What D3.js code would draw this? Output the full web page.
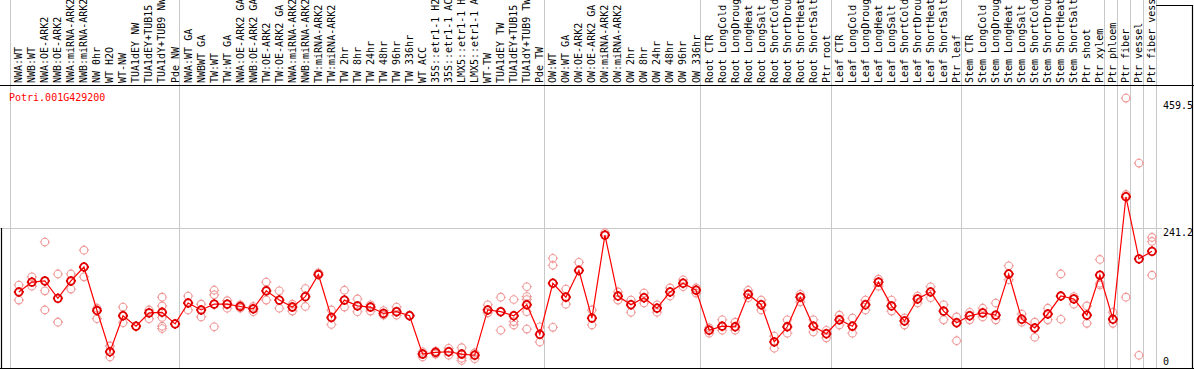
<!DOCTYPE html>
<html>
<head>
<meta charset="utf-8">
<script src="https://cdn.jsdelivr.net/npm/d3@7"></script>
<style>
  body { margin: 0; background: #fff; }
  svg { display: block; }
  text { font-family: "DejaVu Sans Mono", monospace; font-size: 10px; }
</style>
</head>
<body>
<svg id="chart" width="1194" height="370"></svg>
<script>
const geneId = "Potri.001G429200";

const samples = [
  "NWA:WT", "NWB:WT", "NWA:OE-ARK2", "NWB:OE-ARK2", "NWA:miRNA-ARK2", "NWB:miRNA-ARK2",
  "NW 0hr", "WT H2O", "WT-NW", "TUA1dEY NW", "TUA1dEY+TUB15", "TUA1dY+TUB9 NW", "Pde NW",
  "NWA:WT GA", "NWBWT GA", "TW:WT", "TW:WT GA", "NWA:OE-ARK2 GA", "NWB:OE-ARK2 GA",
  "TW:OE-ARK2", "TW:OE-ARK2 GA", "NWA:miRNA-ARK2", "NWB:miRNA-ARK2", "TW:miRNA-ARK2",
  "TW:miRNA-ARK2", "TW 2hr", "TW 8hr", "TW 24hr", "TW 48hr", "TW 96hr", "TW 336hr",
  "WT ACC", "35S::etr1-1 H2O", "35S::etr1-1 ACC", "LMX5::etr1-1 H2O", "LMX5::etr1-1 ACC",
  "WT-TW", "TUA1dEY TW", "TUA1dEY+TUB15 TW", "TUA1dY+TUB9 TW", "Pde TW",
  "OW:WT", "OW:WT GA", "OW:OE-ARK2", "OW:OE-ARK2 GA", "OW:miRNA-ARK2", "OW:miRNA-ARK2",
  "OW 2hr", "OW 8hr", "OW 24hr", "OW 48hr", "OW 96hr", "OW 336hr",
  "Root CTR", "Root LongCold", "Root LongDrought", "Root LongHeat", "Root LongSalt",
  "Root ShortCold", "Root ShortDrought", "Root ShortHeat", "Root ShortSalt", "Ptr root",
  "Leaf CTR", "Leaf LongCold", "Leaf LongDrought", "Leaf LongHeat", "Leaf LongSalt",
  "Leaf ShortCold", "Leaf ShortDrought", "Leaf ShortHeat", "Leaf ShortSalt", "Ptr leaf",
  "Stem CTR", "Stem LongCold", "Stem LongDrought", "Stem LongHeat", "Stem LongSalt",
  "Stem ShortCold", "Stem ShortDrought", "Stem ShortHeat", "Stem ShortSalt", "Ptr shoot",
  "Ptr xylem", "Ptr phloem", "Ptr fiber", "Ptr vessel", "Ptr fiber vessel"
];

// mean expression per sample (connected by the line)
const means = [
  131, 148, 150, 120, 150, 174, 99, 28, 90, 72, 95, 96, 76,
  112, 100, 110, 110, 106, 102, 133, 117, 105, 123, 161, 87, 117, 107, 105, 94, 97, 90,
  24, 27, 28, 24, 22, 100, 97, 90, 109, 58,
  146, 122, 168, 86, 229, 124, 109, 121, 103, 131, 146, 134,
  65, 72, 71, 127, 109, 45, 71, 122, 72, 59,
  83, 72, 109, 148, 107, 81, 119, 131, 98, 78,
  90, 95, 91, 162, 84, 69, 93, 124, 119, 91, 160,
  84, 295, 188, 201
];

// individual replicates per sample
const replicates = [
  [143, 117], [157, 141], [217, 133, 100], [162, 79], [162, 136], [203, 157],
  [103, 85], [38, 19], [105, 78], [72], [100, 85], [122, 107, 87, 72, 68], [76],
  [124, 100], [110, 88], [134, 126, 71], [116, 103], [109, 103], [106, 97],
  [148, 117], [133, 103], [110, 98], [137, 106], [164], [100, 75], [134, 105],
  [119, 97], [109, 98], [99, 91], [105, 91], [91],
  [28, 19], [29, 24], [34, 22], [35, 17, 13], [26, 16],
  [109, 95], [122, 65], [118, 80, 74], [140, 123, 118, 97, 67], [71, 45],
  [189, 177, 70], [136, 110], [182], [100, 74], [233], [131, 117],
  [117, 96], [129, 112], [109, 96], [138, 124], [152, 140], [138, 129],
  [69, 60], [83, 65], [79, 65], [134, 121], [117, 100], [55, 34], [83, 60],
  [127, 114], [83, 62], [65, 52],
  [91, 74], [86, 60], [117, 100], [153, 141], [117, 98], [86, 74], [124, 112],
  [140, 121], [109, 83], [88, 47],
  [96, 83], [103, 88], [112, 83], [176, 152], [93, 79], [79, 53], [103, 83],
  [162, 84], [123, 110], [107, 77], [187, 146, 143],
  [96, 77], [465, 299, 122], [353, 22], [225, 218, 160]
];

// index of the first sample in each block, a grey rule is drawn at its left edge
const blockStarts = [0, 13, 41, 53, 63, 73, 84, 85, 86, 87, 88];

const yTickValues = [0, 241.2, 459.5];
const yTickLabels = ["0", "241.2", "459.5"];

const width = 1194;
const plotLeft = 10;
const plotRight = 1156.2;
const headerBottom = 85.5;
const plotBottom = 368;

const svg = d3.select("#chart");

const x = d3.scaleBand()
  .domain(d3.range(samples.length))
  .range([plotLeft, plotRight]);

const y = d3.scaleLinear()
  .domain([0, 241.2])
  .range([plotBottom, 228]);

const px = (i) => x(i) + x.bandwidth() / 2 + 2.3;

// grey rules
const grid = svg.append("g").attr("stroke", "#c8c8c8").attr("stroke-width", 1);
blockStarts.forEach((i) => {
  const xx = i < samples.length ? x(i) : plotRight;
  grid.append("line")
    .attr("x1", Math.round(xx) + 0.5).attr("x2", Math.round(xx) + 0.5)
    .attr("y1", 0).attr("y2", plotBottom);
});
grid.append("line")
  .attr("x1", 0).attr("x2", 1162)
  .attr("y1", Math.round(y(241.2)) + 0.5).attr("y2", Math.round(y(241.2)) + 0.5);

// black frame pieces
const frame = svg.append("g").attr("stroke", "#000").attr("stroke-width", 1.2);
frame.append("line").attr("x1", 0).attr("x2", width).attr("y1", headerBottom).attr("y2", headerBottom);
frame.append("line").attr("x1", 0).attr("x2", width).attr("y1", plotBottom + 0.5).attr("y2", plotBottom + 0.5);
frame.append("line").attr("x1", 1192.5).attr("x2", 1192.5).attr("y1", 5).attr("y2", plotBottom);
frame.append("line").attr("x1", plotRight).attr("x2", 1193).attr("y1", 5.5).attr("y2", 5.5);
frame.append("line").attr("x1", 1.5).attr("x2", 1.5).attr("y1", y(241.2)).attr("y2", plotBottom);

// sample names, rotated
svg.append("g")
  .selectAll("text")
  .data(samples)
  .join("text")
  .attr("transform", (d, i) => `translate(${px(i) + 3.4},83) rotate(-90)`)
  .attr("fill", "#000")
  .text((d) => d);

svg.append("text")
  .attr("x", 9).attr("y", 101)
  .attr("fill", "#ff0000")
  .text(geneId);

// y labels
svg.append("g")
  .selectAll("text")
  .data(yTickValues)
  .join("text")
  .attr("x", 1163)
  .attr("y", (d) => (d === 0 ? plotBottom - 3 : y(d) + 8))
  .attr("fill", "#000")
  .text((d, i) => yTickLabels[i]);

function marker(g, r, tick) {
  g.append("circle").attr("r", r).attr("fill", "none");
  g.append("path")
    .attr("fill", "none")
    .attr("d", `M0,${-r}V${-r - tick}M0,${r}V${r + tick}M${-r},0H${-r - tick}M${r},0H${r + tick}`);
}

// replicates
const reps = [];
replicates.forEach((vals, i) => vals.forEach((v) => reps.push({ i, v })));
svg.append("g")
  .attr("stroke", "#f09a9a")
  .attr("stroke-width", 1.1)
  .selectAll("g")
  .data(reps)
  .join("g")
  .attr("transform", (d) => `translate(${px(d.i)},${y(d.v)})`)
  .each(function () { marker(d3.select(this), 3.8, 1.3); });

// mean line
const line = d3.line()
  .x((d, i) => px(i))
  .y((d) => y(d));

svg.append("path")
  .datum(means)
  .attr("fill", "none")
  .attr("stroke", "#ff0000")
  .attr("stroke-width", 1.2)
  .attr("d", line);

svg.append("g")
  .attr("stroke", "#e00000")
  .attr("stroke-width", 1.8)
  .selectAll("g")
  .data(means)
  .join("g")
  .attr("transform", (d, i) => `translate(${px(i)},${y(d)})`)
  .each(function () { marker(d3.select(this), 3.8, 1.2); });
</script>
</body>
</html>
